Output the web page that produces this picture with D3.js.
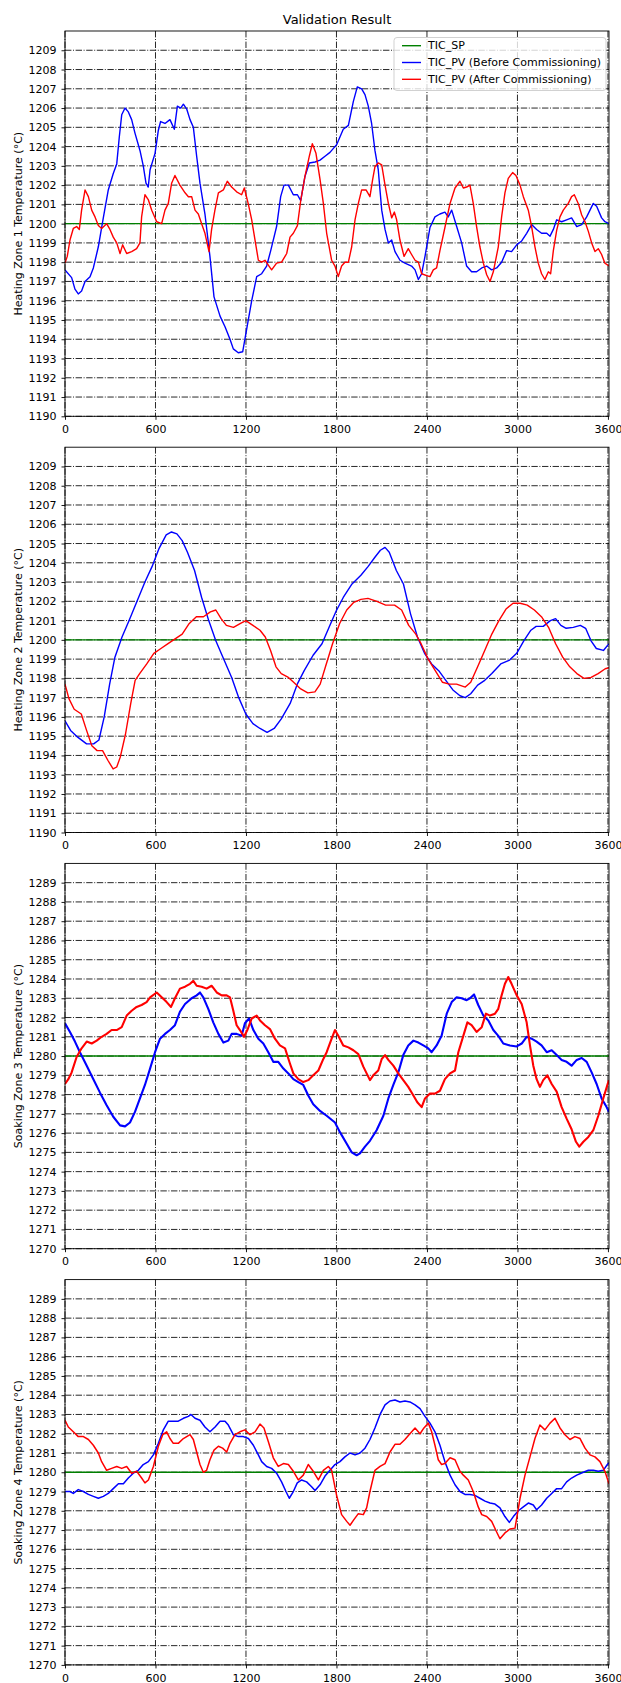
<!DOCTYPE html>
<html>
<head>
<meta charset="utf-8">
<script src="https://cdn.jsdelivr.net/npm/d3@7"></script>
<style>
  html, body { margin: 0; padding: 0; background: #fff; }
  svg { display: block; }
  text { font-family: "DejaVu Sans", sans-serif; fill: #000; }
</style>
</head>
<body>
<svg id="chart" width="621" height="1683"></svg>
<script>
// ---------------- DATA ----------------
const chartTitle = "Validation Result";
const legendLabels = ["TIC_SP", "TIC_PV (Before Commissioning)", "TIC_PV (After Commissioning)"];
const yLabels = [
  "Heating Zone 1 Temperature (°C)",
  "Heating Zone 2 Temperature (°C)",
  "Soaking Zone 3 Temperature (°C)",
  "Soaking Zone 4 Temperature (°C)"
];
const xTicks = [0, 600, 1200, 1800, 2400, 3000, 3600];
const yTicksHeating = [1190,1191,1192,1193,1194,1195,1196,1197,1198,1199,1200,1201,1202,1203,1204,1205,1206,1207,1208,1209];
const yTicksSoaking = [1270,1271,1272,1273,1274,1275,1276,1277,1278,1279,1280,1281,1282,1283,1284,1285,1286,1287,1288,1289];
const setpoints = [1200, 1200, 1280, 1280];

const z1Before = [[0,1197.6],[44,1197.2],[66,1196.6],[88,1196.35],[110,1196.5],[133,1197.0],[166,1197.25],[188,1197.7],[221,1198.8],[254,1200.3],[287,1201.75],[320,1202.6],[343,1203.1],[360,1204.5],[376,1205.65],[398,1206.0],[420,1205.8],[442,1205.4],[464,1204.7],[497,1203.8],[519,1203.0],[537,1202.1],[552,1201.9],[564,1202.8],[597,1203.65],[619,1204.85],[634,1205.3],[663,1205.2],[696,1205.4],[725,1204.9],[745,1206.1],[767,1206.0],[785,1206.2],[807,1205.95],[829,1205.4],[851,1205.0],[873,1203.5],[895,1202.1],[928,1200.5],[961,1198.3],[988,1196.2],[1028,1195.2],[1061,1194.65],[1094,1194.0],[1116,1193.5],[1149,1193.3],[1178,1193.35],[1204,1194.5],[1238,1196.0],[1271,1197.25],[1304,1197.4],[1337,1197.8],[1364,1198.6],[1403,1199.85],[1430,1201.4],[1452,1202.0],[1481,1202.0],[1514,1201.5],[1541,1201.5],[1563,1201.2],[1591,1202.45],[1620,1203.15],[1658,1203.2],[1691,1203.3],[1724,1203.5],[1757,1203.7],[1801,1204.1],[1845,1204.9],[1879,1205.1],[1912,1206.35],[1938,1207.1],[1967,1207.0],[1989,1206.7],[2011,1206.1],[2033,1205.2],[2055,1203.8],[2077,1202.8],[2100,1200.7],[2122,1199.7],[2144,1199.0],[2166,1199.15],[2188,1198.55],[2221,1198.1],[2254,1197.95],[2298,1197.8],[2321,1197.6],[2343,1197.1],[2365,1197.4],[2387,1198.3],[2420,1199.8],[2453,1200.35],[2486,1200.5],[2519,1200.6],[2541,1200.35],[2564,1200.7],[2597,1199.85],[2630,1199.0],[2663,1197.8],[2696,1197.5],[2729,1197.5],[2763,1197.7],[2796,1197.8],[2829,1197.6],[2862,1197.7],[2895,1198.0],[2928,1198.6],[2961,1198.55],[2995,1198.9],[3028,1199.1],[3061,1199.5],[3094,1199.95],[3127,1199.7],[3160,1199.5],[3194,1199.5],[3216,1199.35],[3238,1199.7],[3260,1200.2],[3293,1200.1],[3326,1200.2],[3359,1200.3],[3393,1199.85],[3426,1199.95],[3459,1200.35],[3481,1200.7],[3503,1201.05],[3525,1200.9],[3558,1200.3],[3580,1200.1],[3607,1200.0]];

const z1After = [[0,1197.95],[15,1198.3],[33,1199.15],[55,1199.75],[77,1199.85],[95,1199.7],[110,1200.7],[133,1201.75],[155,1201.4],[177,1200.7],[199,1200.35],[221,1199.9],[243,1199.75],[276,1200.0],[298,1199.7],[320,1199.3],[343,1199.0],[365,1198.45],[382,1198.9],[409,1198.45],[442,1198.55],[475,1198.7],[497,1199.0],[508,1200.35],[530,1201.5],[552,1201.25],[575,1200.7],[608,1200.1],[641,1200.0],[663,1200.7],[685,1201.05],[707,1202.1],[729,1202.5],[762,1202.0],[796,1201.6],[818,1201.4],[840,1201.4],[862,1200.7],[884,1200.5],[906,1200.0],[928,1199.5],[955,1198.55],[972,1199.7],[994,1200.7],[1017,1201.6],[1050,1201.75],[1076,1202.2],[1105,1201.9],[1138,1201.65],[1171,1201.5],[1189,1201.85],[1216,1201.0],[1238,1200.2],[1260,1199.15],[1282,1198.1],[1304,1198.0],[1326,1198.1],[1348,1197.85],[1370,1197.6],[1403,1197.95],[1436,1198.0],[1470,1198.45],[1492,1199.3],[1514,1199.5],[1541,1199.9],[1563,1201.2],[1591,1202.45],[1620,1203.5],[1640,1204.15],[1664,1203.65],[1691,1202.3],[1713,1201.05],[1735,1199.5],[1768,1198.1],[1790,1197.8],[1812,1197.25],[1834,1197.8],[1856,1198.0],[1879,1198.0],[1901,1198.8],[1923,1200.2],[1945,1201.05],[1967,1201.75],[1996,1201.75],[2022,1201.4],[2040,1202.3],[2055,1202.95],[2077,1203.15],[2100,1203.05],[2122,1202.0],[2144,1201.05],[2166,1200.3],[2184,1200.6],[2199,1200.2],[2221,1199.15],[2248,1198.3],[2276,1198.7],[2298,1198.4],[2321,1198.1],[2343,1198.0],[2365,1197.4],[2398,1197.3],[2420,1197.25],[2442,1197.6],[2464,1197.7],[2486,1198.6],[2519,1199.8],[2553,1201.05],[2586,1201.85],[2619,1202.2],[2641,1201.85],[2663,1201.9],[2685,1202.0],[2707,1201.05],[2729,1199.85],[2751,1198.8],[2774,1197.95],[2796,1197.35],[2818,1197.0],[2840,1197.5],[2873,1198.8],[2895,1200.35],[2917,1201.6],[2939,1202.35],[2968,1202.65],[2990,1202.5],[3017,1202.0],[3039,1201.4],[3072,1200.7],[3094,1199.85],[3116,1198.8],[3138,1197.95],[3160,1197.4],[3182,1197.1],[3205,1197.5],[3220,1197.4],[3238,1198.6],[3260,1199.65],[3282,1200.35],[3304,1200.7],[3337,1201.05],[3359,1201.4],[3377,1201.5],[3403,1201.05],[3426,1200.45],[3448,1200.1],[3470,1199.6],[3492,1199.0],[3514,1198.55],[3536,1198.7],[3558,1198.4],[3580,1197.95],[3607,1197.8]];

const z2Before = [[0,1195.8],[37,1195.3],[84,1194.95],[143,1194.6],[190,1194.6],[225,1194.8],[260,1196.0],[296,1197.7],[331,1199.1],[378,1200.15],[425,1201.0],[472,1201.9],[530,1203.0],[577,1203.8],[624,1204.75],[671,1205.45],[706,1205.6],[742,1205.5],[777,1205.15],[812,1204.55],[859,1203.6],[906,1202.2],[953,1201.0],[1000,1199.95],[1047,1199.1],[1105,1198.05],[1152,1197.0],[1199,1196.15],[1246,1195.65],[1293,1195.4],[1340,1195.2],[1387,1195.4],[1434,1195.9],[1493,1196.7],[1540,1197.7],[1586,1198.4],[1645,1199.2],[1704,1199.8],[1751,1200.65],[1798,1201.5],[1845,1202.2],[1903,1202.9],[1962,1203.35],[2009,1203.8],[2056,1204.3],[2091,1204.65],[2122,1204.8],[2150,1204.55],[2197,1203.6],[2244,1202.9],[2291,1201.35],[2337,1200.15],[2384,1199.3],[2431,1198.75],[2478,1198.4],[2525,1197.9],[2572,1197.4],[2619,1197.1],[2654,1197.0],[2690,1197.2],[2736,1197.65],[2783,1197.9],[2830,1198.25],[2889,1198.75],[2948,1198.95],[2995,1199.3],[3042,1199.95],[3089,1200.5],[3124,1200.7],[3171,1200.7],[3218,1201.0],[3253,1201.1],[3288,1200.75],[3323,1200.6],[3370,1200.65],[3417,1200.75],[3452,1200.6],[3488,1199.95],[3523,1199.55],[3570,1199.45],[3607,1199.8]];

const z2After = [[0,1197.7],[26,1196.95],[61,1196.4],[108,1196.15],[143,1195.3],[178,1194.5],[213,1194.25],[249,1194.25],[284,1193.75],[319,1193.3],[343,1193.4],[366,1193.9],[401,1195.1],[436,1196.7],[465,1197.9],[495,1198.25],[542,1198.75],[589,1199.3],[636,1199.55],[683,1199.8],[730,1200.05],[777,1200.3],[824,1200.85],[871,1201.2],[918,1201.2],[964,1201.45],[1000,1201.55],[1035,1201.1],[1070,1200.75],[1117,1200.65],[1164,1200.85],[1199,1201.0],[1246,1200.75],[1293,1200.5],[1328,1200.15],[1363,1199.45],[1399,1198.6],[1434,1198.25],[1481,1198.05],[1516,1197.8],[1563,1197.45],[1610,1197.25],[1657,1197.3],[1692,1197.7],[1727,1198.6],[1774,1199.8],[1821,1200.85],[1868,1201.55],[1915,1201.95],[1962,1202.1],[2009,1202.15],[2068,1202.0],[2126,1201.8],[2185,1201.8],[2232,1201.55],[2279,1200.75],[2326,1200.3],[2361,1199.8],[2408,1199.0],[2455,1198.4],[2502,1197.8],[2549,1197.7],[2596,1197.7],[2654,1197.55],[2690,1197.8],[2736,1198.6],[2783,1199.45],[2830,1200.3],[2877,1201.0],[2924,1201.6],[2971,1201.9],[3018,1201.9],[3065,1201.8],[3112,1201.55],[3159,1201.2],[3206,1200.65],[3253,1199.8],[3300,1199.1],[3347,1198.6],[3394,1198.25],[3441,1198.0],[3488,1198.05],[3535,1198.25],[3582,1198.5],[3607,1198.55]];

const z3Before = [[0,1281.7],[33,1281.25],[66,1280.75],[99,1280.2],[144,1279.5],[188,1278.8],[232,1278.1],[276,1277.45],[320,1276.85],[365,1276.4],[398,1276.35],[431,1276.55],[464,1277.1],[497,1277.8],[530,1278.5],[564,1279.35],[597,1280.2],[630,1280.9],[663,1281.15],[696,1281.35],[729,1281.6],[762,1282.3],[796,1282.7],[840,1283.0],[873,1283.15],[895,1283.3],[917,1283.05],[950,1282.45],[983,1281.75],[1017,1281.15],[1050,1280.7],[1083,1280.8],[1105,1281.15],[1138,1281.15],[1171,1281.05],[1193,1281.7],[1220,1281.95],[1249,1281.35],[1282,1280.9],[1315,1280.65],[1348,1280.2],[1381,1279.7],[1414,1279.7],[1448,1279.35],[1481,1279.1],[1514,1278.8],[1547,1278.65],[1580,1278.5],[1613,1277.95],[1646,1277.5],[1691,1277.15],[1735,1276.9],[1790,1276.55],[1823,1276.05],[1868,1275.45],[1901,1275.0],[1934,1274.85],[1956,1274.95],[1989,1275.3],[2022,1275.6],[2066,1276.15],[2111,1276.9],[2144,1277.8],[2177,1278.5],[2210,1279.15],[2243,1280.05],[2276,1280.55],[2310,1280.8],[2343,1280.7],[2376,1280.55],[2409,1280.4],[2431,1280.2],[2464,1280.55],[2497,1281.05],[2531,1282.2],[2564,1282.8],[2597,1283.05],[2630,1283.0],[2663,1282.9],[2685,1283.0],[2712,1283.2],[2740,1282.65],[2774,1282.1],[2807,1281.85],[2840,1281.35],[2873,1281.05],[2906,1280.65],[2950,1280.55],[2995,1280.5],[3028,1280.65],[3061,1281.0],[3094,1280.9],[3127,1280.75],[3160,1280.55],[3194,1280.2],[3227,1280.3],[3260,1280.05],[3293,1279.8],[3326,1279.7],[3359,1279.5],[3393,1279.8],[3426,1279.9],[3459,1279.7],[3492,1279.15],[3525,1278.55],[3558,1277.8],[3591,1277.35],[3607,1277.1]];

const z3After = [[0,1278.55],[22,1278.8],[44,1279.15],[77,1279.95],[110,1280.4],[144,1280.75],[177,1280.65],[210,1280.8],[243,1281.0],[276,1281.15],[309,1281.35],[343,1281.35],[376,1281.5],[409,1282.1],[442,1282.35],[475,1282.55],[508,1282.65],[541,1282.8],[564,1283.05],[608,1283.3],[641,1283.05],[674,1282.8],[703,1282.55],[729,1283.0],[762,1283.5],[796,1283.6],[829,1283.75],[851,1283.9],[873,1283.65],[906,1283.6],[939,1283.5],[972,1283.65],[1006,1283.3],[1039,1283.15],[1072,1283.15],[1094,1283.05],[1116,1282.35],[1138,1281.6],[1160,1281.35],[1187,1281.0],[1209,1281.35],[1238,1281.95],[1271,1282.1],[1293,1281.85],[1326,1281.6],[1359,1281.4],[1392,1280.9],[1425,1280.55],[1459,1280.4],[1492,1279.6],[1514,1279.1],[1547,1278.8],[1580,1278.65],[1613,1278.75],[1646,1279.0],[1680,1279.25],[1713,1279.85],[1735,1280.2],[1768,1280.9],[1790,1281.35],[1812,1281.05],[1845,1280.55],[1879,1280.45],[1912,1280.3],[1945,1280.1],[1978,1279.45],[2000,1279.1],[2022,1278.75],[2044,1279.0],[2077,1279.25],[2100,1279.85],[2122,1280.05],[2144,1279.8],[2177,1279.5],[2210,1279.1],[2243,1278.75],[2276,1278.4],[2310,1277.95],[2336,1277.6],[2365,1277.35],[2387,1277.8],[2420,1278.05],[2453,1278.05],[2486,1278.2],[2519,1278.8],[2553,1279.1],[2586,1279.25],[2608,1280.2],[2641,1281.05],[2668,1281.75],[2696,1281.6],[2729,1281.25],[2763,1281.5],[2791,1282.2],[2818,1282.1],[2851,1282.2],[2873,1282.45],[2895,1283.15],[2917,1283.75],[2939,1284.1],[2961,1283.75],[2995,1283.15],[3028,1282.7],[3061,1281.75],[3083,1280.55],[3105,1279.5],[3127,1278.8],[3149,1278.4],[3171,1278.75],[3198,1279.0],[3227,1278.55],[3260,1278.15],[3293,1277.35],[3326,1276.75],[3359,1276.2],[3388,1275.55],[3410,1275.3],[3437,1275.55],[3470,1275.8],[3503,1276.15],[3536,1276.9],[3569,1277.8],[3602,1278.65],[3607,1278.75]];

const z4Before = [[0,1279.0],[33,1279.0],[55,1278.9],[88,1279.1],[122,1279.0],[155,1278.85],[188,1278.75],[221,1278.65],[254,1278.75],[287,1278.9],[320,1279.15],[354,1279.4],[387,1279.4],[420,1279.7],[453,1279.95],[486,1280.1],[519,1280.4],[553,1280.55],[586,1280.9],[619,1281.5],[652,1282.2],[685,1282.65],[718,1282.65],[751,1282.65],[785,1282.8],[818,1282.9],[835,1283.0],[862,1282.8],[895,1282.7],[928,1282.35],[961,1282.1],[995,1282.35],[1028,1282.65],[1061,1282.65],[1083,1282.45],[1116,1281.95],[1149,1281.85],[1182,1281.85],[1216,1281.75],[1249,1281.4],[1282,1280.9],[1304,1280.55],[1337,1280.3],[1370,1280.2],[1403,1279.95],[1436,1279.5],[1465,1279.0],[1487,1278.65],[1514,1279.0],[1540,1279.45],[1569,1279.6],[1602,1279.5],[1635,1279.25],[1658,1279.05],[1691,1279.35],[1724,1279.8],[1757,1280.1],[1790,1280.4],[1823,1280.55],[1856,1280.8],[1890,1281.0],[1923,1280.9],[1956,1281.0],[1989,1281.25],[2022,1281.7],[2055,1282.3],[2089,1283.0],[2122,1283.5],[2155,1283.7],[2188,1283.75],[2221,1283.65],[2254,1283.7],[2287,1283.65],[2321,1283.5],[2354,1283.3],[2387,1282.9],[2420,1282.55],[2453,1282.1],[2486,1281.4],[2519,1280.55],[2553,1279.85],[2586,1279.35],[2619,1279.0],[2652,1278.85],[2685,1278.85],[2718,1278.8],[2751,1278.65],[2785,1278.5],[2818,1278.4],[2851,1278.35],[2884,1278.15],[2917,1277.7],[2946,1277.4],[2973,1277.7],[3006,1278.0],[3039,1278.2],[3072,1278.4],[3105,1278.3],[3127,1278.05],[3160,1278.3],[3194,1278.65],[3227,1278.9],[3260,1279.15],[3293,1279.15],[3326,1279.5],[3359,1279.7],[3393,1279.85],[3437,1280.0],[3470,1280.1],[3503,1280.1],[3536,1280.05],[3569,1280.1],[3596,1280.4],[3607,1280.5]];

const z4After = [[0,1282.7],[22,1282.35],[55,1282.1],[88,1281.85],[122,1281.85],[155,1281.7],[188,1281.4],[221,1281.0],[243,1280.55],[276,1280.1],[309,1280.2],[343,1280.3],[376,1280.2],[409,1280.3],[442,1279.95],[475,1280.05],[508,1279.7],[530,1279.45],[553,1279.6],[586,1280.3],[619,1281.35],[648,1281.95],[674,1282.1],[696,1281.75],[718,1281.5],[751,1281.5],[785,1281.75],[829,1281.95],[851,1281.7],[873,1281.05],[895,1280.4],[917,1280.0],[939,1280.1],[961,1280.65],[988,1281.15],[1017,1281.35],[1045,1281.25],[1072,1281.05],[1094,1281.5],[1127,1281.95],[1160,1282.1],[1193,1282.2],[1227,1281.95],[1260,1282.1],[1293,1282.5],[1319,1282.3],[1348,1281.6],[1381,1280.75],[1414,1280.3],[1448,1280.45],[1481,1280.4],[1514,1280.05],[1547,1279.6],[1580,1279.85],[1613,1280.4],[1646,1280.05],[1680,1279.6],[1713,1280.1],[1746,1280.3],[1768,1280.1],[1801,1278.8],[1834,1277.8],[1868,1277.45],[1890,1277.25],[1912,1277.5],[1945,1277.85],[1978,1277.8],[2000,1278.15],[2022,1279.0],[2055,1280.1],[2089,1280.3],[2122,1280.45],[2155,1281.05],[2188,1281.45],[2221,1281.45],[2254,1281.7],[2287,1282.0],[2321,1282.3],[2354,1282.0],[2380,1282.3],[2409,1282.55],[2431,1282.1],[2453,1281.4],[2475,1280.65],[2497,1280.4],[2519,1280.45],[2553,1280.75],[2586,1280.65],[2619,1280.05],[2641,1279.85],[2674,1279.6],[2707,1279.0],[2740,1278.2],[2763,1277.8],[2796,1277.7],[2829,1277.45],[2862,1276.9],[2884,1276.55],[2917,1276.85],[2950,1277.05],[2984,1277.1],[3017,1278.65],[3050,1279.85],[3083,1280.8],[3116,1281.75],[3149,1282.45],[3182,1282.2],[3216,1282.55],[3249,1282.8],[3282,1282.3],[3315,1281.95],[3348,1281.7],[3381,1281.85],[3415,1281.75],[3448,1281.25],[3481,1280.9],[3514,1280.8],[3547,1280.55],[3580,1280.05],[3607,1279.4]];

// ---------------- LAYOUT ----------------
const xDomain = [0, 3607];
const plotLeft = 65, plotRight = 609;
const firstTop = 31, panelPitch = 416.2, panelHeight = 385.3;
const colors = { sp: "#008000", before: "#0000ff", after: "#ff0000" };
const fontSize = 11;

const panels = [
  { label: yLabels[0], sp: setpoints[0], before: z1Before, after: z1After, ticks: yTicksHeating, domain: [1190, 1210], lw: 1.4 },
  { label: yLabels[1], sp: setpoints[1], before: z2Before, after: z2After, ticks: yTicksHeating, domain: [1190, 1210], lw: 1.4 },
  { label: yLabels[2], sp: setpoints[2], before: z3Before, after: z3After, ticks: yTicksSoaking, domain: [1270, 1290], lw: 2.1 },
  { label: yLabels[3], sp: setpoints[3], before: z4Before, after: z4After, ticks: yTicksSoaking, domain: [1270, 1290], lw: 1.5 }
];

const svg = d3.select("#chart");
const x = d3.scaleLinear().domain(xDomain).range([plotLeft, plotRight]);

svg.append("text")
  .attr("x", (plotLeft + plotRight) / 2).attr("y", 24)
  .attr("text-anchor", "middle").attr("font-size", 13)
  .text(chartTitle);

const defs = svg.append("defs");

panels.forEach((p, i) => {
  const top = firstTop + i * panelPitch;
  const bottom = top + panelHeight;
  const y = d3.scaleLinear().domain(p.domain).range([bottom, top]);
  const g = svg.append("g");

  defs.append("clipPath").attr("id", "clip" + i)
    .append("rect").attr("x", plotLeft).attr("y", top)
    .attr("width", plotRight - plotLeft).attr("height", panelHeight);

  // grid
  const grid = g.append("g").attr("stroke", "#111").attr("stroke-width", 0.9)
    .attr("stroke-dasharray", "6.4,1.6,1,1.6").attr("fill", "none");
  grid.selectAll("line.h").data(p.ticks).join("line").attr("class", "h")
    .attr("x1", plotLeft).attr("x2", plotRight)
    .attr("y1", d => y(d)).attr("y2", d => y(d));
  grid.selectAll("line.v").data(xTicks).join("line").attr("class", "v")
    .attr("x1", d => x(d)).attr("x2", d => x(d))
    .attr("y1", top).attr("y2", bottom);

  // lines
  const line = d3.line().x(d => x(d[0])).y(d => y(d[1]));
  const lines = g.append("g").attr("clip-path", `url(#clip${i})`).attr("fill", "none");
  lines.append("path").datum([[xDomain[0], p.sp], [xDomain[1], p.sp]])
    .attr("d", line).attr("stroke", colors.sp).attr("stroke-width", 1.4);
  lines.append("path").datum(p.before).attr("d", line)
    .attr("stroke", colors.before).attr("stroke-width", p.lw).attr("stroke-linejoin", "round");
  lines.append("path").datum(p.after).attr("d", line)
    .attr("stroke", colors.after).attr("stroke-width", p.lw).attr("stroke-linejoin", "round");

  // axes
  const ya = g.append("g").attr("transform", `translate(${plotLeft},0)`)
    .call(d3.axisLeft(y).tickValues(p.ticks).tickFormat(d3.format("d")).tickSize(3.5).tickPadding(5));
  const xa = g.append("g").attr("transform", `translate(0,${bottom})`)
    .call(d3.axisBottom(x).tickValues(xTicks).tickFormat(d3.format("d")).tickSize(3.5).tickPadding(5.5));
  [ya, xa].forEach(a => {
    a.select(".domain").remove();
    a.selectAll("text").attr("font-size", fontSize).attr("font-family", "DejaVu Sans, sans-serif").attr("fill", "#000");
    a.selectAll("line").attr("stroke", "#000").attr("stroke-width", 0.9);
  });

  // frame
  g.append("rect").attr("x", plotLeft).attr("y", top)
    .attr("width", plotRight - plotLeft).attr("height", panelHeight)
    .attr("fill", "none").attr("stroke", "#000").attr("stroke-width", 0.9);

  // y label
  g.append("text")
    .attr("transform", `translate(18.5,${(top + bottom) / 2}) rotate(-90)`)
    .attr("text-anchor", "middle").attr("dominant-baseline", "central")
    .attr("font-size", fontSize).text(p.label);

  // legend on first panel
  if (i === 0) {
    const lg = g.append("g");
    lg.append("rect").attr("x", 394).attr("y", top + 6.5).attr("width", 212).attr("height", 53)
      .attr("rx", 3).attr("fill", "#fff").attr("fill-opacity", 0.8)
      .attr("stroke", "#cccccc").attr("stroke-width", 0.9);
    const cols = [colors.sp, colors.before, colors.after];
    legendLabels.forEach((lab, k) => {
      const ly = top + 14.7 + k * 16.8;
      lg.append("line").attr("x1", 402).attr("x2", 421).attr("y1", ly).attr("y2", ly)
        .attr("stroke", cols[k]).attr("stroke-width", 1.4);
      lg.append("text").attr("x", 428).attr("y", ly).attr("dominant-baseline", "central")
        .attr("font-size", fontSize).text(lab);
    });
  }
});
</script>
</body>
</html>
